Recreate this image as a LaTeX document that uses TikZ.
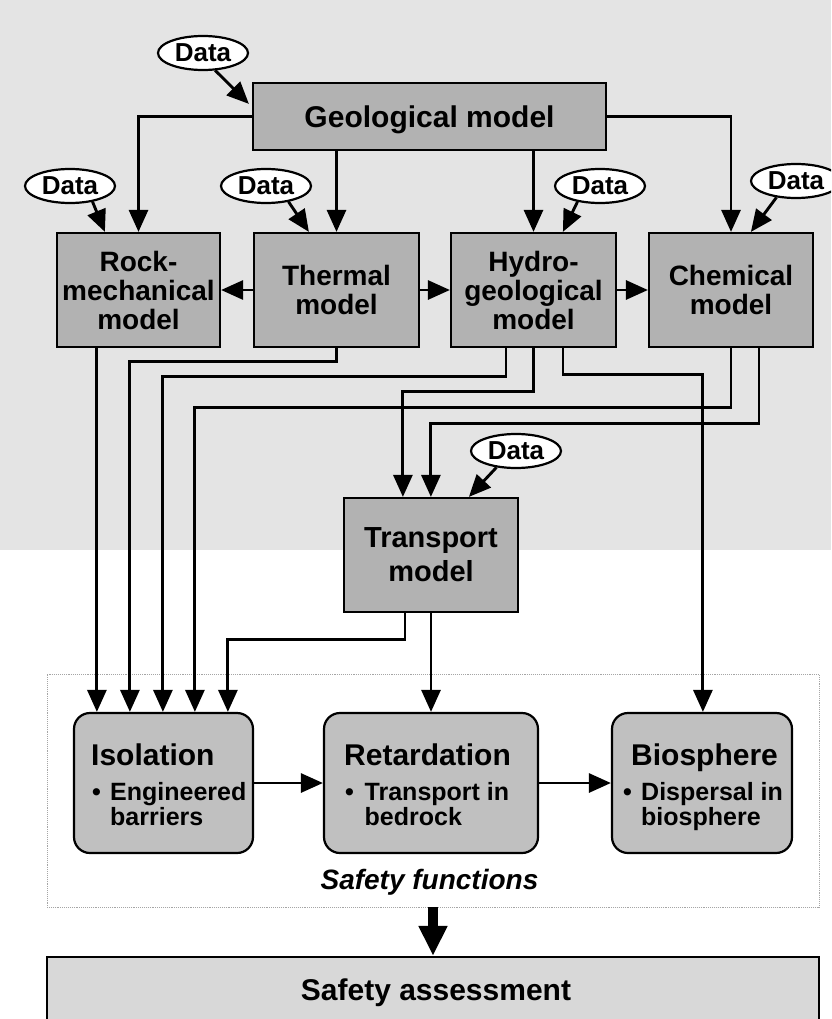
\documentclass[tikz,border=0pt]{standalone}
\usepackage{fontspec}
\setmainfont{Liberation Sans}
\usetikzlibrary{arrows.meta,shapes.geometric,calc}
\definecolor{bgtop}{RGB}{228,228,228}
\definecolor{boxgray}{RGB}{178,178,178}
\definecolor{roundgray}{RGB}{192,192,192}
\definecolor{safegray}{RGB}{216,216,216}
\definecolor{sfborder}{RGB}{165,165,165}
\newcommand{\fsz}[2]{\fontsize{#1}{#2}\selectfont}
\begin{document}
\begin{tikzpicture}[x=1pt,y=-1pt,
  mbox/.style={draw=black, line width=2.2pt, fill=boxgray, align=center, inner sep=0pt, font=\bfseries\fsz{28}{29}},
  rbox/.style={draw=black, line width=2.2pt, fill=roundgray, rounded corners=16pt, inner sep=0pt},
  dataell/.style={ellipse, draw=black, line width=2.2pt, fill=white, minimum width=90pt, minimum height=34pt, inner sep=0pt, font=\bfseries\fsz{26}{28}},
  ttl/.style={anchor=base west, inner sep=0pt, font=\bfseries\fsz{30}{32}},
  bul/.style={anchor=base west, inner sep=0pt, font=\bfseries\fsz{25}{26}},
  arr/.style={line width=2.9pt, -{Triangle[length=22pt,width=19pt]}},
  bigarr/.style={line width=10pt, -{Triangle[length=30pt,width=27pt]}}
]
\clip (0,0) rectangle (831,1019);
\useasboundingbox (0,0) rectangle (831,1019);
\fill[bgtop] (0,0) rectangle (831,550);
\fill[white] (0,550) rectangle (831,1019);

% top row
\node[mbox, minimum width=353pt, minimum height=67pt, font=\bfseries\fsz{30}{32}, text height=21.5pt, text depth=0pt] (geo) at (429.5,116.5) {Geological model};
\node[dataell] (d0) at (203,53) {Data};

% second row
\node[mbox, minimum width=163pt, minimum height=114pt] (rock) at (138.5,290) {Rock-\\mechanical\\model};
\node[mbox, minimum width=165pt, minimum height=114pt] (therm) at (336.5,290) {Thermal\\model};
\node[mbox, minimum width=165pt, minimum height=114pt] (hydro) at (533.5,290) {Hydro-\\geological\\model};
\node[mbox, minimum width=164pt, minimum height=114pt] (chem) at (731,290) {Chemical\\model};
\node[dataell] (d1) at (70,186) {Data};
\node[dataell] (d2) at (266,186) {Data};
\node[dataell] (d3) at (600,186) {Data};
\node[dataell] (d4) at (796,181) {Data};

% transport
\node[mbox, minimum width=174pt, minimum height=114pt, font=\bfseries\fsz{29}{34}] (trans) at (431,555) {Transport\\model};
\node[dataell] (d5) at (516,451) {Data};

% safety functions
\node[draw=sfborder, densely dotted, line width=0.9pt, fill=white, minimum width=772pt, minimum height=233pt, inner sep=0pt] (sf) at (433,790.5) {};
\node[anchor=base, inner sep=0pt, font=\bfseries\itshape\fsz{28}{30}] (sft) at (429.5,889) {Safety functions};

\node[rbox, minimum width=179pt, minimum height=140pt] (iso) at (163.5,783) {};
\node[rbox, minimum width=214pt, minimum height=140pt] (ret) at (431,783) {};
\node[rbox, minimum width=180pt, minimum height=140pt] (bio) at (702,783) {};

\node[ttl] (isot) at (91,765) {Isolation};
\node[bul] (isob) at (92,800) {\textbullet};
\node[bul] (iso1) at (110,800) {Engineered};
\node[bul] (iso2) at (110,825) {barriers};

\node[ttl] (rett) at (344,765) {Retardation};
\node[bul] (retb) at (345,800) {\textbullet};
\node[bul] (ret1) at (364.5,800) {Transport in};
\node[bul] (ret2) at (364.5,825) {bedrock};

\node[ttl] (biot) at (631,765) {Biosphere};
\node[bul] (biob) at (623,800) {\textbullet};
\node[bul] (bio1) at (641,800) {Dispersal in};
\node[bul] (bio2) at (641,825) {biosphere};

% safety assessment
\node[draw=black, line width=2.2pt, fill=safegray, minimum width=772pt, minimum height=90pt, inner sep=0pt] (sa) at (433,1002) {};
\node[anchor=base, inner sep=0pt, font=\bfseries\fsz{30}{32}] (sat) at (436,1000) {Safety assessment};

% coordinates on box tops
\coordinate (g0) at ($(geo.north west)+(-3,22)$);
\coordinate (r0) at ($(rock.north west)+(49,0)$);
\coordinate (t0) at ($(therm.north west)+(56,0)$);
\coordinate (h0) at ($(hydro.north west)+(113,0)$);
\coordinate (c0) at ($(chem.north west)+(103,0)$);
\coordinate (tr1) at ($(trans.north west)+(60,0)$);
\coordinate (tr2) at ($(trans.north west)+(88,0)$);
\coordinate (tr3) at ($(trans.north west)+(126,0)$);
\coordinate (i1) at ($(iso.north west)+(24,0)$);
\coordinate (i2) at ($(iso.north west)+(57,0)$);
\coordinate (i3) at ($(iso.north west)+(90,0)$);
\coordinate (i4) at ($(iso.north west)+(122,0)$);
\coordinate (i5) at ($(iso.north west)+(155,0)$);
\coordinate (b1) at ($(bio.north west)+(92,0)$);

% data arrows
\draw[arr] (d0.-55) -- (g0);
\draw[arr] (d1.-35) -- (r0);
\draw[arr] (d2.-35) -- (t0);
\draw[arr] (d3.-145) -- (h0);
\draw[arr] (d4.-140) -- (c0);
\draw[arr] (d5.-140) -- (tr3);

% geological connections
\draw[arr] (geo.west) -| (rock.north);
\draw[arr] (geo.east) -| (chem.north);
\draw[arr] (geo.south -| therm.north) -- (therm.north);
\draw[arr] (geo.south -| hydro.north) -- (hydro.north);

% horizontal arrows
\draw[arr] (therm.west) -- (rock.east);
\draw[arr] (therm.east) -- (hydro.west);
\draw[arr] (hydro.east) -- (chem.west);

% to isolation
\draw[arr] (rock.south -| i1) -- (i1);
\draw[arr] (therm.south) -- ++(0,13) -| (i2);
\draw[arr] ($(hydro.south)+(-27.5,0)$) -- ++(0,28) -| (i3);
\draw[arr] (chem.south) -- ++(0,59) -| (i4);
\draw[arr] ($(trans.south)+(-26,0)$) -- ++(0,26) -| (i5);

% to transport
\draw[arr] (hydro.south) -- ++(0,43) -| (tr1);
\draw[arr] ($(chem.south)+(28,0)$) -- ++(0,75) -| (tr2);

% to retardation and biosphere
\draw[arr] (trans.south) -- (ret.north);
\draw[arr] ($(hydro.south)+(29.5,0)$) -- ++(0,26) -| (b1);

\draw[arr] (iso.east) -- (ret.west);
\draw[arr] (ret.east) -- (bio.west);

\draw[bigarr] (sf.south) -- (sa.north);
\end{tikzpicture}
\end{document}
